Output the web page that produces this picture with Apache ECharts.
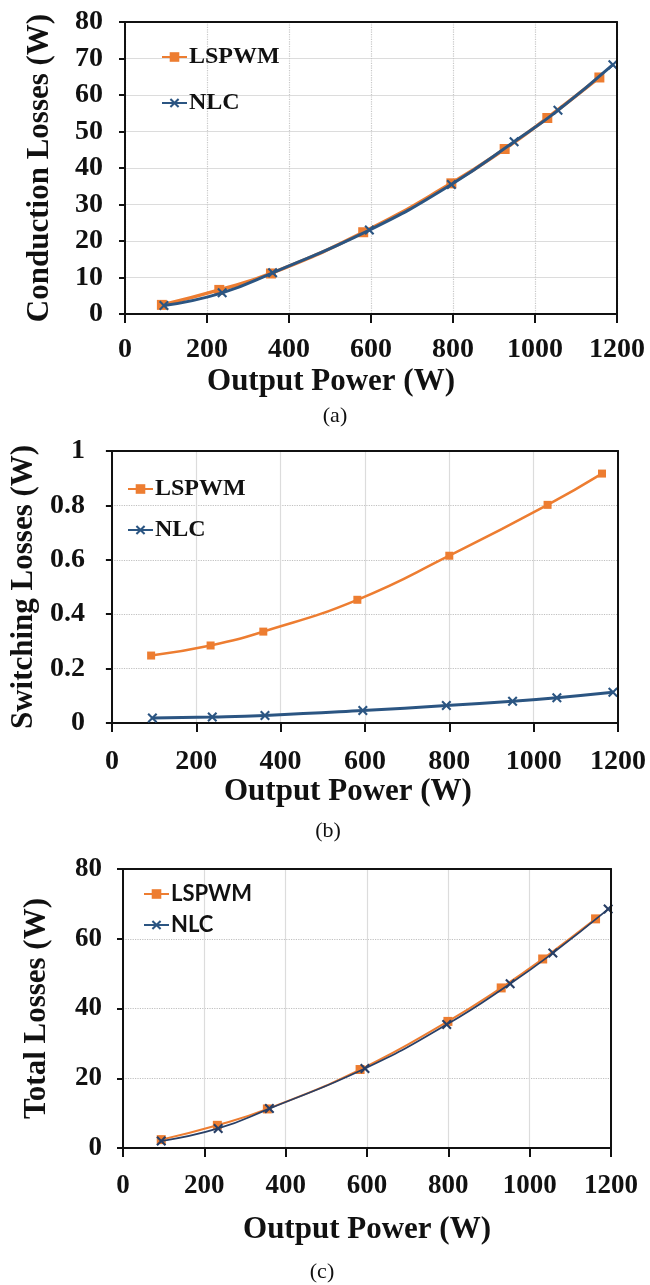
<!DOCTYPE html>
<html><head><meta charset="utf-8">
<script src="https://cdn.jsdelivr.net/npm/echarts@6/dist/echarts.min.js"></script>
<style>html,body{margin:0;padding:0;background:#fff}#c{width:650px;height:1285px}</style>
</head><body><div id="c"></div>
<script>
// ---- data ----
const seriesNames = ['LSPWM', 'NLC'];
const captions = ['(a)', '(b)', '(c)'];
const yNames = ['Conduction Losses (W)', 'Switching Losses (W)', 'Total Losses (W)'];
const xName = 'Output Power (W)';

const condLspwmX = [90, 230, 356, 581, 796, 926, 1030, 1157];
const condLspwmY = [2.5, 6.6, 11.1, 22.4, 35.8, 45.2, 53.7, 64.8];
const condNlcX = [95, 237, 360, 596, 796, 949, 1056, 1190];
const condNlcY = [2.3, 5.8, 11.3, 23.0, 35.5, 47.2, 55.8, 68.3];

const swLspwmX = [93, 234, 359, 582, 800, 1033, 1162];
const swLspwmY = [0.248, 0.285, 0.336, 0.453, 0.615, 0.802, 0.917];
const swNlcX = [96, 238, 363, 595, 793, 950, 1055, 1188];
const swNlcY = [0.018, 0.022, 0.028, 0.046, 0.064, 0.080, 0.093, 0.113];

const totLspwmX = [94, 232, 355, 583, 799, 930, 1032, 1162];
const totLspwmY = [2.4, 6.5, 11.2, 22.5, 36.3, 45.9, 54.2, 65.7];
const totNlcX = [94, 234, 360, 595, 796, 952, 1057, 1193];
const totNlcY = [2.0, 5.6, 11.3, 22.8, 35.4, 47.1, 55.9, 68.5];

const xMin = 0, xMax = 1200, xStep = 200;
const yRanges = [[0, 80, 10], [0, 1, 0.2], [0, 80, 20]];

// ---- styles ----
const ORANGE = '#ED7D31';
const BLUE = '#2B5582';
const BLUE_C = '#283F66';
const SERIF = '"Liberation Serif", "Times New Roman", serif';
const LATO = 'Lato, "Open Sans", sans-serif';
const xSym = 'path://M0,1.5 L1.5,0 L5,3.5 L8.5,0 L10,1.5 L6.5,5 L10,8.5 L8.5,10 L5,6.5 L1.5,10 L0,8.5 L3.5,5 Z';
const zip = (xs, ys) => xs.map((x, i) => [x, ys[i]]);

const grids = [
  {left: 125, top: 22, width: 492, height: 292},
  {left: 108, top: 451, width: 510, height: 272},
  {left: 123, top: 869, width: 488, height: 279}
];
const cfg = [
  {xLabMargin: 22, xNameGap: 52, yLabMargin: 22, yNameGap: 70, tickFont: 28, xNamePad: [0, 80, 0, 0], hDotted: false},
  {xLabMargin: 25, xNameGap: 49, yLabMargin: 27, yNameGap: 63, tickFont: 28, xNamePad: [0, 34, 0, 0], hDotted: true},
  {xLabMargin: 25, xNameGap: 66, yLabMargin: 21, yNameGap: 71, tickFont: 27, xNamePad: [0, 0, 0, 0], hDotted: true}
];

const xAxes = [], yAxes = [];
grids.forEach((g, i) => {
  const c = cfg[i];
  xAxes.push({
    type: 'value', gridIndex: i, min: xMin, max: xMax, interval: xStep,
    name: xName, nameLocation: 'middle', nameGap: c.xNameGap,
    nameTextStyle: {fontFamily: SERIF, fontWeight: 'bold', fontSize: 31, color: '#111', padding: c.xNamePad},
    axisLine: {show: true, onZero: false, lineStyle: {color: '#111', width: 2}},
    axisTick: {show: true, length: 9, lineStyle: {color: '#111', width: 2}},
    axisLabel: {margin: c.xLabMargin, fontFamily: SERIF, fontWeight: 'bold', fontSize: c.tickFont, color: '#111', formatter: v => String(v)},
    splitLine: {show: true, lineStyle: c.hDotted ? {color: '#dcdcdc', width: 1.2, type: 'solid'} : {color: '#c8c8c8', width: 1.2, type: 'dotted'}}
  });
  const r = yRanges[i];
  yAxes.push({
    type: 'value', gridIndex: i, min: r[0], max: r[1], interval: r[2],
    name: yNames[i], nameLocation: 'middle', nameGap: c.yNameGap,
    nameTextStyle: {fontFamily: SERIF, fontWeight: 'bold', fontSize: 31, color: '#111'},
    axisLine: {show: true, onZero: false, lineStyle: {color: '#111', width: 2}},
    axisTick: {show: true, length: 6, lineStyle: {color: '#111', width: 2}},
    axisLabel: {margin: c.yLabMargin, fontFamily: SERIF, fontWeight: 'bold', fontSize: c.tickFont, color: '#111', formatter: v => String(v)},
    splitLine: {show: true, lineStyle: c.hDotted ? {color: '#c0c0c0', width: 1.2, type: 'dotted'} : {color: '#dcdcdc', width: 1.2, type: 'solid'}}
  });
});
// frame: top and right border lines
grids.forEach((g, i) => {
  const r = yRanges[i];
  xAxes.push({type: 'value', gridIndex: i, position: 'top', min: xMin, max: xMax, interval: xStep,
    axisLine: {show: true, onZero: false, lineStyle: {color: '#111', width: 2}}, axisTick: {show: false},
    axisLabel: {show: false}, splitLine: {show: false}, z: 5});
  yAxes.push({type: 'value', gridIndex: i, position: 'right', min: r[0], max: r[1], interval: r[2],
    axisLine: {show: true, onZero: false, lineStyle: {color: '#111', width: 2}}, axisTick: {show: false},
    axisLabel: {show: false}, splitLine: {show: false}, z: 5});
});

function sq(name, gi, data, w, size) {
  return {name, type: 'line', xAxisIndex: gi, yAxisIndex: gi, data, smooth: true,
    symbol: 'rect', symbolSize: size, showSymbol: true,
    lineStyle: {color: ORANGE, width: w}, itemStyle: {color: ORANGE}, z: 2};
}
function cross(name, gi, data, w, size, col) {
  return {name, type: 'line', xAxisIndex: gi, yAxisIndex: gi, data, smooth: true,
    symbol: xSym, symbolSize: size, showSymbol: true,
    lineStyle: {color: col, width: w}, itemStyle: {color: col}, z: 3};
}

const series = [
  sq(seriesNames[0], 0, zip(condLspwmX, condLspwmY), 3.5, 10),
  cross(seriesNames[1], 0, zip(condNlcX, condNlcY), 3, 10, BLUE),
  sq(seriesNames[0], 1, zip(swLspwmX, swLspwmY), 2.5, 8),
  cross(seriesNames[1], 1, zip(swNlcX, swNlcY), 3, 10, BLUE),
  sq(seriesNames[0], 2, zip(totLspwmX, totLspwmY), 2, 9),
  cross(seriesNames[1], 2, zip(totNlcX, totNlcY), 1.8, 10, BLUE_C)
];

function leg(name, left, top, font, family) {
  return {data: [name], left, top, orient: 'vertical', itemWidth: 25, itemHeight: 12, itemGap: 2,
    selectedMode: false,
    textStyle: {fontFamily: family, fontWeight: 'bold', fontSize: font, color: '#111', padding: [0, 0, 0, -3]}};
}
const legends = [
  leg(seriesNames[0], 156, 40, 24, SERIF),
  leg(seriesNames[1], 156, 86, 24, SERIF),
  leg(seriesNames[0], 122, 472, 24, SERIF),
  leg(seriesNames[1], 122, 513, 24, SERIF),
  leg(seriesNames[0], 138, 878, 22, LATO),
  leg(seriesNames[1], 138, 909, 22, LATO)
];

const captionPos = [[335, 416], [328, 831], [322, 1272]];
const graphics = captions.map((t, i) => ({
  type: 'text', x: captionPos[i][0], y: captionPos[i][1],
  style: {text: t, font: '22px ' + SERIF, fill: '#111', align: 'center', verticalAlign: 'middle'}
}));

const grid = grids.map(g => Object.assign({}, g, {show: false}));

const chart = echarts.init(document.getElementById('c'), null, {renderer: 'canvas'});
chart.setOption({
  animation: false,
  backgroundColor: '#fff',
  grid, xAxis: xAxes, yAxis: yAxes, series, legend: legends, graphic: graphics
});
</script></body></html>
